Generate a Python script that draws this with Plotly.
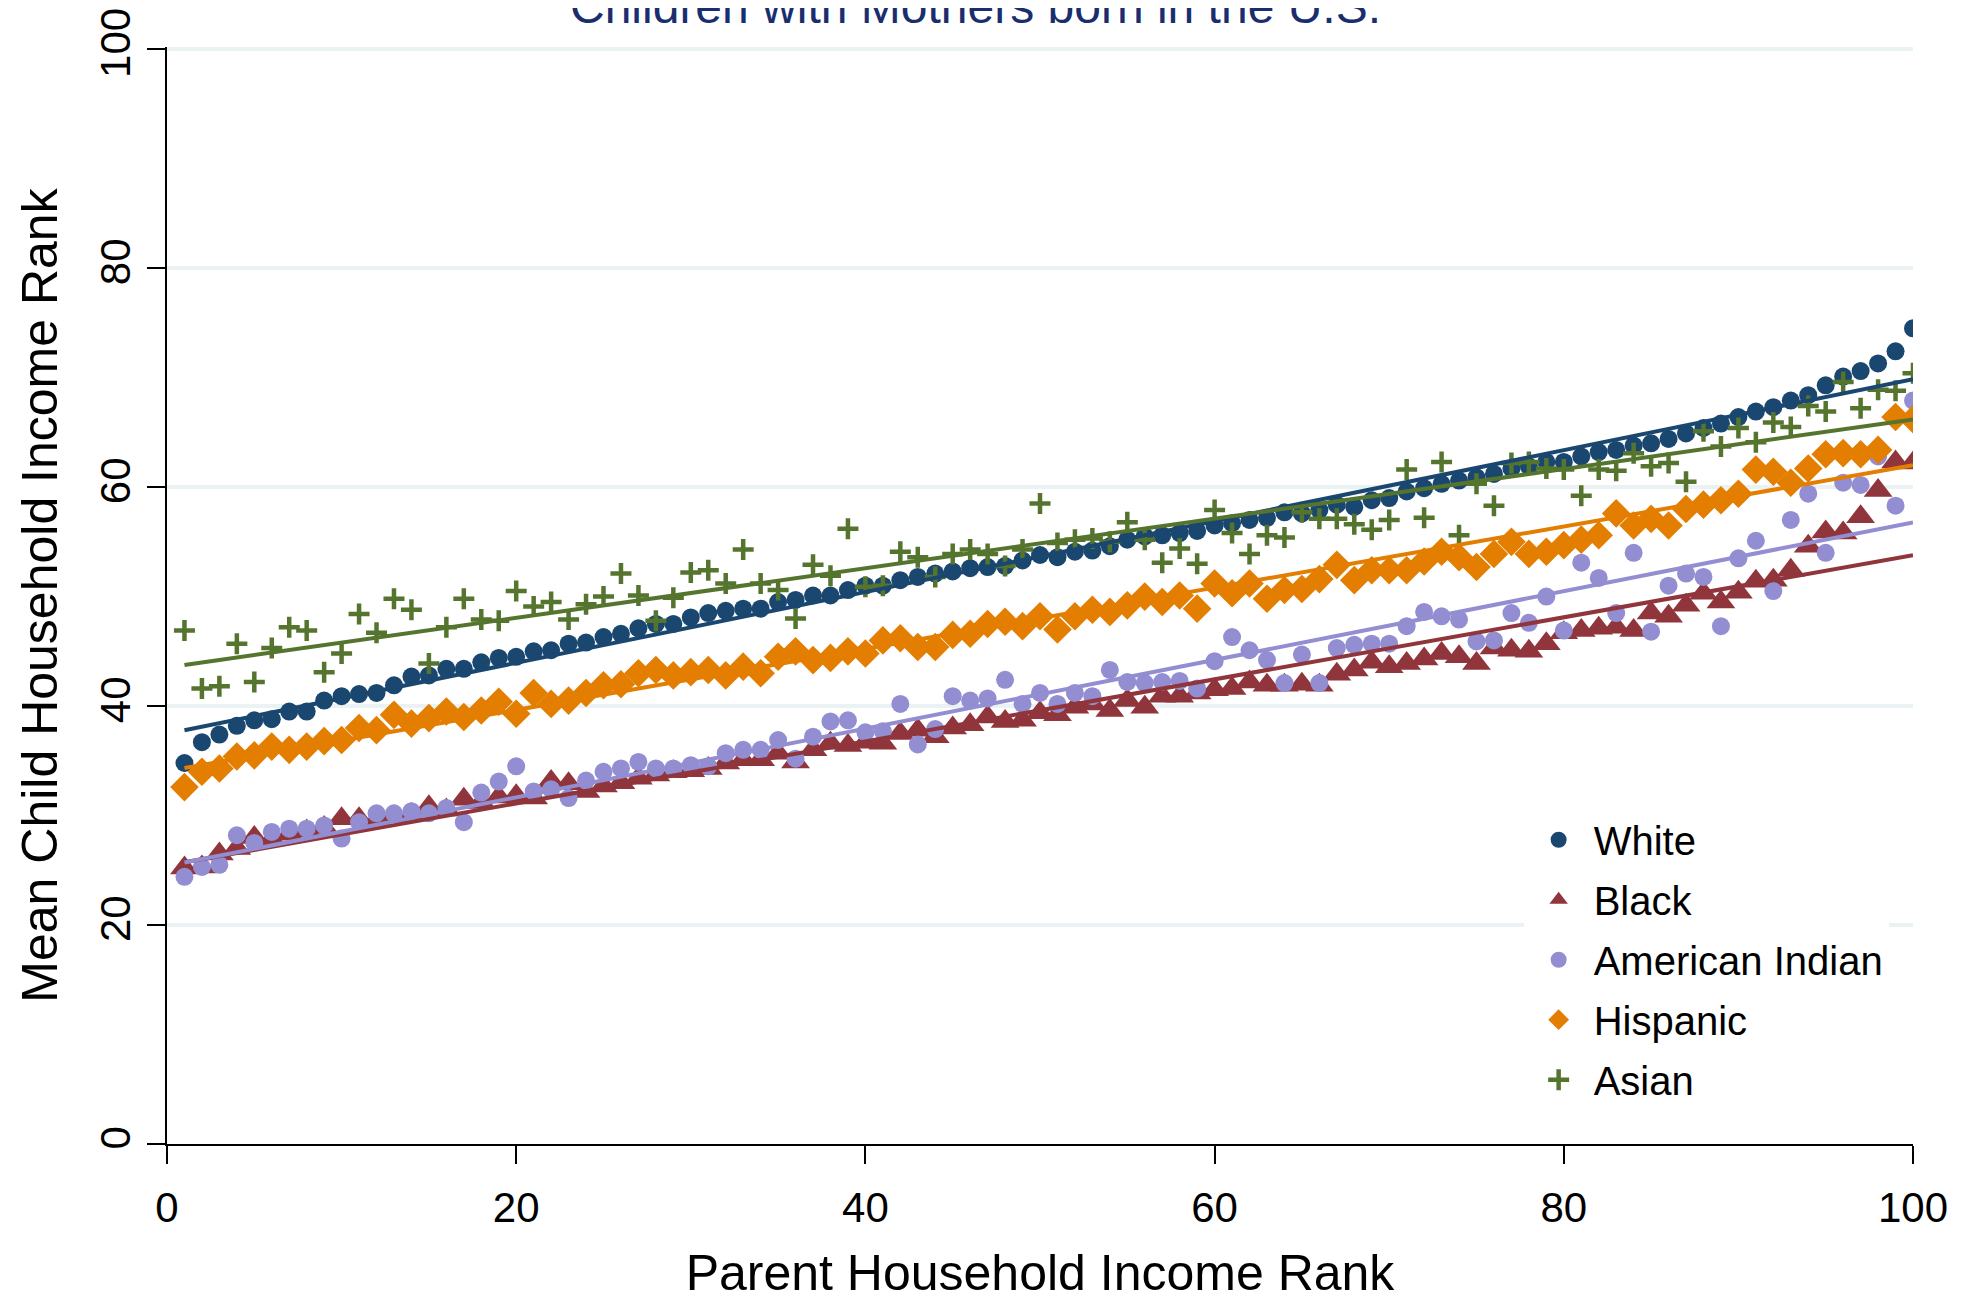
import numpy as np
import plotly.graph_objects as go

parent_rank = list(range(1, 101))

white = [34.8, 36.7, 37.4, 38.2, 38.7, 38.8, 39.5, 39.5, 40.5, 40.9,
         41.1, 41.2, 41.9, 42.7, 42.8, 43.4, 43.4, 44.0, 44.4, 44.5,
         45.0, 45.1, 45.7, 45.8, 46.3, 46.6, 47.1, 47.5, 47.5, 48.1,
         48.5, 48.7, 48.9, 48.9, 49.5, 49.7, 50.1, 50.1, 50.6, 51.0,
         51.0, 51.5, 51.8, 52.1, 52.3, 52.6, 52.7, 52.8, 53.3, 53.8,
         53.6, 54.1, 54.2, 54.6, 55.2, 55.5, 55.6, 55.8, 56.0, 56.5,
         56.7, 57.0, 57.2, 57.7, 57.6, 57.9, 58.4, 58.2, 58.8, 59.0,
         59.6, 59.9, 60.3, 60.6, 60.9, 61.2, 61.7, 61.9, 62.3, 62.3,
         62.8, 63.2, 63.4, 63.8, 64.0, 64.4, 64.9, 65.4, 65.8, 66.4,
         66.9, 67.3, 67.9, 68.4, 69.3, 70.1, 70.6, 71.3, 72.4, 74.5]

black = [25.2, 25.3, 26.5, 27.0, 28.0, 27.8, 28.3, 28.6, 28.9, 29.7,
         29.7, 29.6, 29.9, 30.1, 30.8, 30.5, 31.5, 31.2, 31.7, 31.8,
         31.6, 33.1, 32.9, 32.2, 32.7, 33.0, 33.4, 33.7, 34.0, 34.1,
         34.3, 34.8, 35.1, 35.1, 35.7, 34.9, 36.0, 36.6, 36.4, 36.7,
         36.6, 37.5, 37.8, 37.2, 38.0, 38.3, 39.0, 38.6, 38.7, 39.4,
         39.2, 39.9, 40.2, 39.6, 40.5, 39.9, 40.9, 40.9, 41.2, 41.5,
         41.6, 42.2, 41.9, 41.9, 42.0, 41.9, 42.9, 43.3, 44.0, 43.6,
         43.9, 44.3, 44.8, 44.5, 43.9, 45.3, 45.1, 45.0, 45.7, 46.7,
         46.9, 47.1, 47.2, 46.9, 48.5, 48.2, 49.2, 50.3, 49.5, 50.4,
         51.4, 51.5, 52.4, 54.6, 55.9, 55.8, 57.3, 59.7, 62.3, 62.2]

american_indian = [24.4, 25.3, 25.5, 28.2, 27.5, 28.5, 28.8, 28.8, 29.1, 27.9,
                   29.4, 30.2, 30.2, 30.4, 30.2, 30.7, 29.4, 32.1, 33.1, 34.5,
                   32.2, 32.4, 31.6, 33.2, 34.0, 34.3, 34.9, 34.3, 34.3, 34.6,
                   34.5, 35.7, 36.0, 36.0, 36.9, 35.2, 37.2, 38.6, 38.7, 37.6,
                   37.7, 40.2, 36.5, 37.9, 40.9, 40.5, 40.7, 42.4, 40.2, 41.2,
                   40.2, 41.2, 40.9, 43.3, 42.2, 42.1, 42.2, 42.3, 41.6, 44.1,
                   46.3, 45.1, 44.2, 42.1, 44.7, 42.1, 45.3, 45.6, 45.7, 45.7,
                   47.3, 48.6, 48.2, 47.9, 45.9, 46.0, 48.5, 47.6, 50.0, 46.9,
                   53.1, 51.7, 48.5, 54.0, 46.8, 51.0, 52.1, 51.8, 47.3, 53.5,
                   55.1, 50.5, 57.0, 59.4, 54.0, 60.4, 60.2, 62.8, 58.3, 67.9]

hispanic = [32.6, 34.0, 34.3, 35.4, 35.5, 36.3, 36.0, 36.3, 36.8, 36.9,
            38.0, 37.8, 39.2, 38.4, 38.9, 39.5, 39.0, 39.6, 40.4, 39.3,
            41.2, 40.2, 40.5, 41.2, 41.9, 42.0, 43.0, 43.3, 42.8, 43.1,
            43.3, 42.8, 43.6, 43.0, 44.5, 45.0, 44.2, 44.4, 45.0, 44.8,
            46.0, 46.2, 45.4, 45.4, 46.5, 46.6, 47.5, 47.7, 47.3, 48.2,
            47.0, 48.2, 48.8, 48.6, 49.2, 50.0, 49.5, 50.1, 48.9, 51.2,
            50.3, 51.2, 49.8, 50.6, 50.7, 51.6, 52.9, 51.5, 52.4, 52.4,
            52.4, 53.2, 54.1, 53.6, 52.7, 53.9, 55.0, 53.9, 54.1, 54.7,
            55.2, 55.6, 57.6, 56.5, 57.1, 56.5, 58.0, 58.4, 58.8, 59.4,
            61.6, 61.4, 60.4, 61.7, 63.0, 63.1, 63.0, 63.4, 66.4, 66.2]

asian = [46.9, 41.6, 41.8, 45.7, 42.2, 45.3, 47.2, 46.9, 43.1, 44.8,
         48.4, 46.7, 49.8, 48.8, 43.9, 47.2, 49.8, 47.9, 47.8, 50.5,
         49.1, 49.5, 47.9, 49.3, 50.0, 52.1, 50.1, 47.8, 49.9, 52.2,
         52.4, 51.2, 54.3, 51.2, 50.6, 48.0, 52.9, 51.9, 56.2, 50.9,
         51.0, 54.1, 53.6, 51.8, 53.9, 54.3, 53.9, 52.8, 54.3, 58.5,
         54.9, 55.2, 55.3, 55.0, 56.8, 55.2, 53.1, 54.4, 53.0, 57.9,
         55.8, 53.9, 55.6, 55.4, 57.7, 57.1, 57.1, 56.6, 56.1, 57.0,
         61.6, 57.2, 62.3, 55.6, 60.3, 58.3, 62.2, 62.3, 61.7, 61.6,
         59.2, 61.6, 61.5, 63.1, 61.9, 62.2, 60.5, 65.1, 63.7, 65.4,
         64.1, 65.9, 65.5, 67.4, 66.9, 69.6, 67.2, 68.9, 68.8, 70.4]

series_names = ["White", "Black", "American Indian", "Hispanic", "Asian"]
series_values = [white, black, american_indian, hispanic, asian]
series_colors = ["#1a476f", "#90353b", "#938dd2", "#e37e00", "#55752f"]
series_symbols = ["circle", "triangle-up", "circle", "diamond", "cross-thin"]
series_sizes = [18, 25, 18, 22, 15]

tick_vals = [0, 20, 40, 60, 80, 100]
title_text = "Children with Mothers born in the U.S."
x_title = "Parent Household Income Rank"
y_title = "Mean Child Household Income Rank"

FONT = "Liberation Sans, Arial, Helvetica, sans-serif"

fig = go.Figure()

for name, vals, color, sym, size in zip(series_names, series_values, series_colors,
                                        series_symbols, series_sizes):
    marker = dict(color=color, size=size, symbol=sym, line=dict(width=0))
    if sym == "cross-thin":
        marker["line"] = dict(color=color, width=4.5)
    fig.add_trace(go.Scatter(x=parent_rank, y=vals, mode="markers", name=name,
                             marker=marker, legendgroup=name))

for name, vals, color in zip(series_names, series_values, series_colors):
    slope, icpt = np.polyfit(parent_rank, vals, 1)
    xs = [parent_rank[0], parent_rank[-1]]
    fig.add_trace(go.Scatter(x=xs, y=[icpt + slope * v for v in xs], mode="lines",
                             line=dict(color=color, width=4), showlegend=False,
                             hoverinfo="skip"))

fig.add_annotation(text=title_text, xref="paper", yref="paper", x=0.4628, y=1.0107,
                   xanchor="center", yanchor="bottom", showarrow=False,
                   font=dict(family=FONT, size=48, color="#1a2e6e"))

# the page body adds an 8px margin; margins below compensate for it.
# y range top slightly above 100 so the 100 gridline is not clipped at the edge.
fig.update_layout(
    width=1970, height=1296,
    margin=dict(l=159, r=65, t=38.8, b=160, pad=0, autoexpand=False),
    paper_bgcolor="white", plot_bgcolor="white",
    font=dict(family=FONT, color="black"),
    showlegend=True,
    legend=dict(x=0.777, y=0.307, xanchor="left", yanchor="top",
                bgcolor="white", borderwidth=0, itemwidth=60,
                tracegroupgap=5, traceorder="grouped",
                font=dict(family=FONT, size=40, color="black")),
    xaxis=dict(range=[0, 100], tickvals=tick_vals, showgrid=False, zeroline=False,
               automargin=False, ticklabeloverflow="allow",
               showline=True, linecolor="black", linewidth=2,
               ticks="outside", ticklen=18, tickwidth=2, tickcolor="black",
               ticklabelstandoff=8,
               tickfont=dict(family=FONT, size=42, color="black"),
               title=dict(text=x_title, font=dict(family=FONT, size=50, color="black"),
                          standoff=25)),
    yaxis=dict(range=[0, 100.2], tickvals=tick_vals, showgrid=True, gridcolor="#eaf2f3",
               gridwidth=4, zeroline=False, automargin=False, ticklabeloverflow="allow",
               showline=True, linecolor="black", linewidth=2,
               ticks="outside", ticklen=18, tickwidth=2, tickcolor="black",
               tickangle=-90,
               tickfont=dict(family=FONT, size=42, color="black"),
               title=dict(text=y_title, font=dict(family=FONT, size=50, color="black"),
                          standoff=19)),
)

fig.write_html("out.html")
